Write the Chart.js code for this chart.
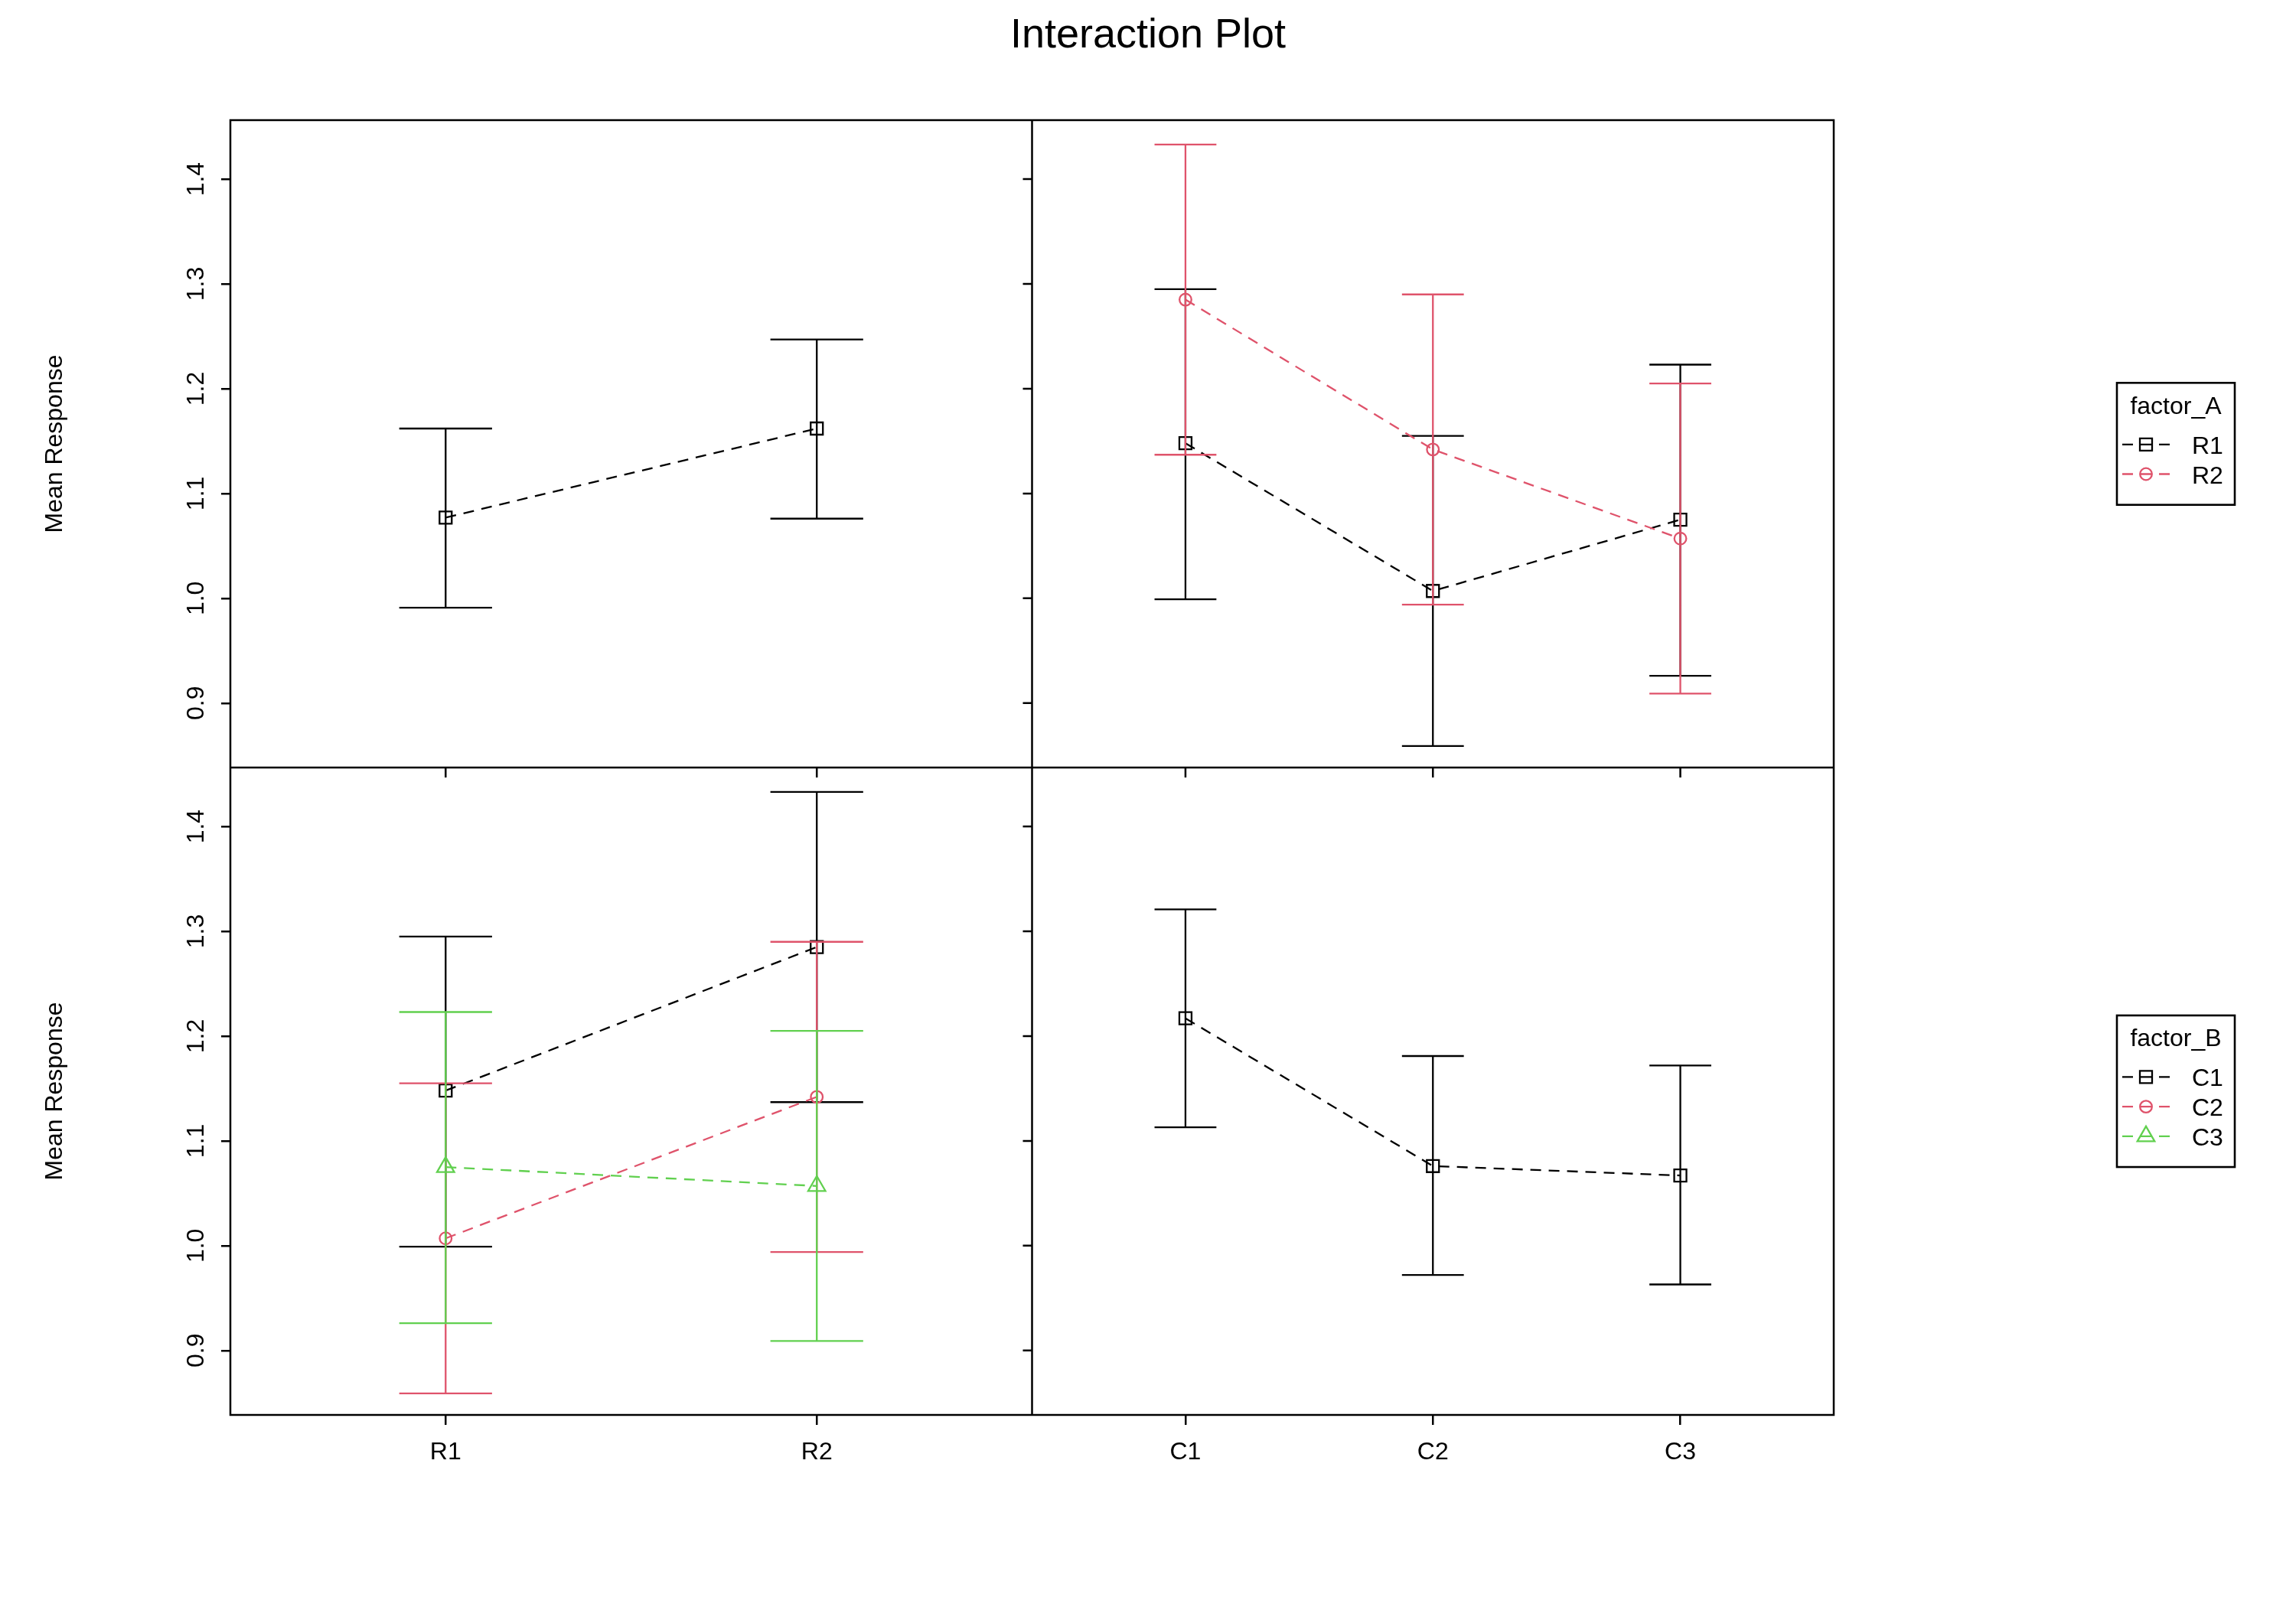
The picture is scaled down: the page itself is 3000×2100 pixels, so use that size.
<!DOCTYPE html>
<html>
<head>
<meta charset="utf-8">
<title>Interaction Plot</title>
<script src="https://cdn.jsdelivr.net/npm/chart.js@4.4.1/dist/chart.umd.min.js"></script>
<style>
  html, body { margin: 0; padding: 0; background: #fff; overflow: hidden; }
  #plot { display: block; }
</style>
</head>
<body>
<canvas id="plot" width="3000" height="2100"></canvas>
<script>
// ── Data ─────────────────────────────────────────────────────────────
const levelsA = ['R1', 'R2'];
const levelsB = ['C1', 'C2', 'C3'];
const yTicks  = [0.9, 1.0, 1.1, 1.2, 1.3, 1.4];
const yRange  = [0.8385, 1.4563];
const xRangeA = [0.42, 2.58];
const xRangeB = [0.38, 3.62];

// factor_A main effect (top-left)
const meanA = [1.077, 1.162];
const lowA  = [0.991, 1.076];
const highA = [1.162, 1.247];

// factor_B main effect (bottom-right)
const meanB = [1.217, 1.076, 1.067];
const lowB  = [1.113, 0.972, 0.963];
const highB = [1.321, 1.181, 1.172];

// cell means, one row per level of factor_A, across C1..C3
const cellMeanR1 = [1.148, 1.007, 1.075];
const cellLowR1  = [0.999, 0.859, 0.926];
const cellHighR1 = [1.295, 1.155, 1.223];
const cellMeanR2 = [1.285, 1.142, 1.057];
const cellLowR2  = [1.137, 0.994, 0.909];
const cellHighR2 = [1.433, 1.290, 1.205];

// ── Styling ──────────────────────────────────────────────────────────
const FONT     = '"Liberation Sans", Arial, Helvetica, sans-serif';
const colours  = ['#000000', '#DF536B', '#61D04F'];
const symbols  = ['rect', 'circle', 'triangle'];
const symRad   = { rect: 11.3, circle: 7.8, triangle: 13 };
const DASH     = [14, 10];
const LW       = 2.3;     // data line width
const CAP_HALF = 0.125;   // error-bar cap half width, in x units
const axisFont = { family: FONT, size: 32 };

function series(label, means, lows, highs, k, xAxisID, yAxisID) {
  return {
    label, xAxisID, yAxisID,
    data: means.map((m, i) => ({ x: i + 1, y: m })),
    errLow: lows, errHigh: highs,
    order: 10 - k,                       // first level drawn first (underneath)
    borderColor: colours[k], borderWidth: LW, borderDash: DASH,
    tension: 0, fill: false,
    pointStyle: symbols[k], pointRadius: symRad[symbols[k]],
    pointBorderColor: colours[k], pointBackgroundColor: 'rgba(0,0,0,0)',
    pointBorderWidth: LW,
  };
}

const datasets = [
  // top-left: factor_A main effect
  series('factor_A', meanA, lowA, highA, 0, 'xL', 'yT'),
  // top-right: factor_B on x, one trace per level of factor_A
  series('R1', cellMeanR1, cellLowR1, cellHighR1, 0, 'xR', 'yT'),
  series('R2', cellMeanR2, cellLowR2, cellHighR2, 1, 'xR', 'yT'),
  // bottom-left: factor_A on x, one trace per level of factor_B
  ...levelsB.map((lvl, j) => series(lvl,
    [cellMeanR1[j], cellMeanR2[j]],
    [cellLowR1[j],  cellLowR2[j]],
    [cellHighR1[j], cellHighR2[j]], j, 'xL', 'yB')),
  // bottom-right: factor_B main effect
  series('factor_B', meanB, lowB, highB, 0, 'xR', 'yB'),
];

const legends = [
  { title: 'factor_A', labels: levelsA, yAxisID: 'yT' },
  { title: 'factor_B', labels: levelsB, yAxisID: 'yB' },
];

// ── Scales: two x axes stacked side by side, two y axes stacked ──────
function xScale(labels, range, weight) {
  return {
    type: 'linear', position: 'bottom', stack: 'cols', stackWeight: 1, weight,
    min: range[0], max: range[1],
    afterBuildTicks: s => { s.ticks = labels.map((_, i) => ({ value: i + 1 })); },
    afterFit: s => { s.height = 251; },
    ticks: {
      callback: v => labels[Math.round(v) - 1] || '',
      font: axisFont, color: '#000', padding: 17, maxRotation: 0, autoSkip: false,
    },
    grid: { drawOnChartArea: false, drawTicks: true, tickLength: 13, color: '#000', lineWidth: 2.5 },
    border: { display: false },
  };
}

function yScale(weight) {
  return {
    type: 'linear', position: 'left', stack: 'rows', stackWeight: 1, weight,
    min: yRange[0], max: yRange[1],
    afterBuildTicks: s => { s.ticks = yTicks.map(v => ({ value: v })); },
    afterFit: s => { s.width = 301; },
    ticks: {
      callback: v => v.toFixed(1),
      font: axisFont, color: '#000', padding: 10,
      minRotation: 90, maxRotation: 90, crossAlign: 'center', autoSkip: false,
    },
    grid: { drawOnChartArea: false, drawTicks: true, tickLength: 12, color: '#000', lineWidth: 2.5 },
    border: { display: false },
    title: { display: true, text: 'Mean Response', font: axisFont, color: '#000', padding: { top: 53, bottom: 0 } },
  };
}

// ── Symbols for the legend (same geometry as Chart.js points) ────────
function drawSymbol(ctx, style, x, y, r) {
  ctx.beginPath();
  if (style === 'rect') {
    const s = Math.SQRT1_2 * r;
    ctx.rect(x - s, y - s, 2 * s, 2 * s);
  } else if (style === 'circle') {
    ctx.arc(x, y, r, 0, Math.PI * 2);
  } else {
    ctx.moveTo(x, y - r);
    ctx.lineTo(x + Math.sin(Math.PI * 2 / 3) * r, y + r / 2);
    ctx.lineTo(x - Math.sin(Math.PI * 2 / 3) * r, y + r / 2);
    ctx.closePath();
  }
  ctx.stroke();
}

// ── Plugin: error bars, panel frame, inner ticks, title, legends ─────
const interactionPlot = {
  id: 'interactionPlot',

  afterDatasetDraw(chart, args) {
    const ds = chart.data.datasets[args.index];
    if (!ds.errLow) return;
    const xs = chart.scales[ds.xAxisID], ys = chart.scales[ds.yAxisID];
    const ctx = chart.ctx;
    ctx.save();
    ctx.strokeStyle = ds.borderColor;
    ctx.lineWidth = LW;
    ctx.setLineDash([]);
    ctx.beginPath();
    ds.data.forEach((p, i) => {
      const x  = xs.getPixelForValue(p.x);
      const x0 = xs.getPixelForValue(p.x - CAP_HALF);
      const x1 = xs.getPixelForValue(p.x + CAP_HALF);
      const lo = ys.getPixelForValue(ds.errLow[i]);
      const hi = ys.getPixelForValue(ds.errHigh[i]);
      ctx.moveTo(x, lo);  ctx.lineTo(x, hi);
      ctx.moveTo(x0, lo); ctx.lineTo(x1, lo);
      ctx.moveTo(x0, hi); ctx.lineTo(x1, hi);
    });
    ctx.stroke();
    ctx.restore();
  },

  afterDraw(chart) {
    const { ctx, chartArea: a } = chart;
    const { xL, xR, yT, yB } = chart.scales;
    ctx.save();
    ctx.setLineDash([]);
    ctx.strokeStyle = '#000';
    ctx.lineWidth = 2.5;

    // frame + dividers
    ctx.strokeRect(a.left, a.top, a.right - a.left, a.bottom - a.top);
    ctx.beginPath();
    ctx.moveTo(xL.right, a.top);  ctx.lineTo(xL.right, a.bottom);
    ctx.moveTo(a.left, yT.bottom); ctx.lineTo(a.right, yT.bottom);
    // top row x ticks hang from the horizontal divider
    [xL, xR].forEach(s => s.ticks.forEach(t => {
      const x = s.getPixelForValue(t.value);
      ctx.moveTo(x, yT.bottom); ctx.lineTo(x, yT.bottom + 13);
    }));
    // right column y ticks point left from the vertical divider
    [yT, yB].forEach(s => s.ticks.forEach(t => {
      const y = s.getPixelForValue(t.value);
      ctx.moveTo(xL.right, y); ctx.lineTo(xL.right - 12, y);
    }));
    ctx.stroke();

    // main title
    ctx.fillStyle = '#000';
    ctx.font = `54px ${FONT}`;
    ctx.textAlign = 'center';
    ctx.textBaseline = 'alphabetic';
    ctx.fillText('Interaction Plot', chart.width / 2, 62);

    // legends, centred on their row
    legends.forEach(lg => {
      const s = chart.scales[lg.yAxisID];
      const rowH = 38.7;
      const w = 154, h = 82 + rowH * lg.labels.length;
      const left = a.right + 370;
      const top = (s.top + s.bottom) / 2 - h / 2;
      ctx.setLineDash([]);
      ctx.strokeStyle = '#000';
      ctx.lineWidth = 2.6;
      ctx.strokeRect(left, top, w, h);

      ctx.fillStyle = '#000';
      ctx.font = `32px ${FONT}`;
      ctx.textAlign = 'center';
      ctx.fillText(lg.title, left + w / 2, top + 40.5);

      lg.labels.forEach((lab, i) => {
        const y = top + 80.5 + rowH * i;
        ctx.strokeStyle = colours[i];
        ctx.lineWidth = LW;
        ctx.setLineDash(DASH);
        ctx.beginPath();
        ctx.moveTo(left + 7, y); ctx.lineTo(left + 69, y);
        ctx.stroke();
        ctx.setLineDash([]);
        drawSymbol(ctx, symbols[i], left + 38, y, symRad[symbols[i]]);
        ctx.fillStyle = '#000';
        ctx.textAlign = 'left';
        ctx.fillText(lab, left + 98, y + 12);
      });
    });
    ctx.restore();
  },
};

new Chart(document.getElementById('plot'), {
  type: 'line',
  data: { datasets },
  options: {
    responsive: false,
    animation: false,
    devicePixelRatio: 1,
    events: [],
    layout: { padding: { top: 157, right: 604, bottom: 0, left: 0 } },
    plugins: {
      legend: { display: false },
      tooltip: { enabled: false },
      title: { display: false },
    },
    scales: {
      xL: xScale(levelsA, xRangeA, 1),
      xR: xScale(levelsB, xRangeB, 2),
      yT: yScale(2),
      yB: yScale(1),
    },
  },
  plugins: [interactionPlot],
});
</script>
</body>
</html>
